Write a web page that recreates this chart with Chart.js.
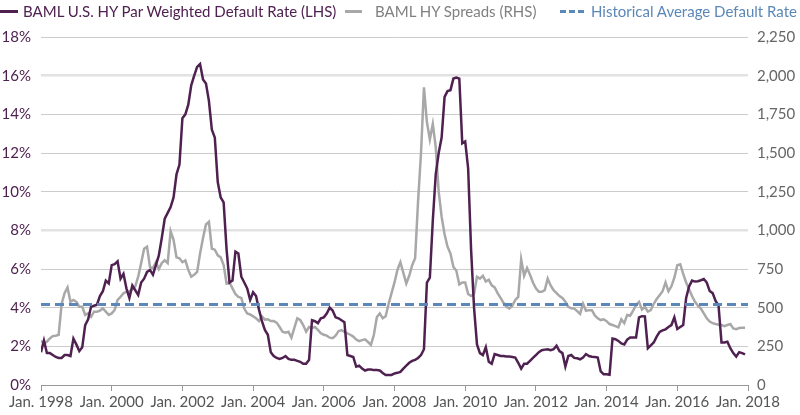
<!DOCTYPE html>
<html>
<head>
<meta charset="utf-8">
<script src="https://cdn.jsdelivr.net/npm/chart.js@4.4.0/dist/chart.umd.min.js"></script>
<style>
  html, body { margin:0; padding:0; background:#fff; }
  #wrap { position:relative; width:800px; height:415px; font-family: Lato, "Open Sans", sans-serif; }
  #chart { position:absolute; left:0; top:0; }
  .lg { position:absolute; top:2px; font-size:15px; line-height:18px; white-space:nowrap; }
  .lg i { position:absolute; top:8px; height:0; }
</style>
</head>
<body>
<div id="wrap">
  <canvas id="chart" width="800" height="415"></canvas>
  <div class="lg" style="left:0;color:#4f2150"><i style="left:0;width:18px;border-top:3px solid #4f2150"></i><span style="margin-left:23px">BAML U.S. HY Par Weighted Default Rate (LHS)</span></div>
  <div class="lg" style="left:345px;color:#808080"><i style="left:0;width:17px;border-top:3px solid #a8a8a8"></i><span style="margin-left:30px">BAML HY Spreads (RHS)</span></div>
  <div class="lg" style="left:560px;color:#5b88b8"><i style="left:0;width:24px;border-top:3px dashed #5b88b8"></i><span style="margin-left:31px">Historical Average Default Rate</span></div>
</div>
<script>
/* ---------- Data (monthly, Jan. 1998 onward) ---------- */
const tickLabels = ['Jan. 1998','Jan. 2000','Jan. 2002','Jan. 2004','Jan. 2006','Jan. 2008',
  'Jan. 2010','Jan. 2012','Jan. 2014','Jan. 2016','Jan. 2018'];

// BAML U.S. HY par weighted default rate, %
const defaultRate = [
  1.7,2.3,1.65,1.65,1.55,1.45,1.4,1.4,1.55,1.55,1.5,2.4,
  2.1,1.75,1.95,3.1,3.4,4.05,4.1,4.15,4.6,4.85,5.4,5.25,
  6.2,6.25,6.4,5.5,5.75,5.0,4.5,5.15,4.9,4.65,5.3,5.5,
  5.85,5.95,5.7,6.2,6.7,7.6,8.6,8.9,9.2,9.7,10.9,11.4,
  13.8,14.0,14.5,15.5,16.0,16.45,16.6,15.8,15.6,14.7,13.2,12.8,
  10.5,9.7,9.45,7.0,5.3,5.4,6.9,6.8,5.6,5.3,5.0,4.4,
  4.8,4.6,3.9,3.3,2.85,2.6,1.7,1.5,1.4,1.35,1.4,1.5,
  1.35,1.3,1.3,1.25,1.2,1.1,1.1,1.3,3.35,3.3,3.2,3.45,
  3.5,3.7,4.0,3.85,3.5,3.45,3.35,3.25,1.55,1.5,1.45,0.95,
  1.0,0.85,0.75,0.8,0.8,0.77,0.77,0.75,0.62,0.52,0.52,0.52,
  0.6,0.63,0.68,0.85,1.0,1.15,1.25,1.3,1.4,1.55,1.85,5.3,
  5.55,8.5,10.9,12.0,12.8,14.9,15.2,15.25,15.85,15.9,15.85,12.5,
  12.6,11.2,7.0,4.0,2.1,1.65,1.55,1.95,1.2,1.1,1.6,1.55,
  1.5,1.5,1.47,1.47,1.45,1.42,1.15,0.85,1.1,1.1,1.25,1.4,
  1.55,1.7,1.8,1.83,1.85,1.8,1.85,2.03,1.75,1.65,0.95,1.5,
  1.55,1.4,1.38,1.33,1.42,1.6,1.5,1.46,1.45,1.42,0.7,0.56,
  0.55,0.53,2.4,2.37,2.28,2.15,2.1,2.35,2.46,2.46,2.46,3.5,
  3.56,3.55,1.9,2.05,2.2,2.5,2.75,2.83,2.88,3.0,3.1,3.5,
  2.9,3.0,3.1,4.5,5.1,5.4,5.35,5.37,5.42,5.48,5.3,4.86,
  4.75,4.35,4.1,2.2,2.2,2.24,1.9,1.65,1.47,1.7,1.65,1.58
];

// BAML HY spreads, bps
const hySpreads = [
  286,269,280,301,316,319,325,525,594,631,538,550,
  538,506,506,453,463,441,474,474,481,495,474,453,
  463,485,550,570,593,603,606,619,638,700,788,881,
  894,763,756,794,750,788,806,788,994,938,825,819,
  794,806,744,700,713,731,850,950,1038,1055,881,875,
  838,825,775,656,663,625,588,569,563,494,463,456,
  444,431,413,444,423,425,413,413,403,375,344,338,
  344,306,369,431,420,388,345,375,369,375,356,334,
  325,319,306,303,319,348,355,344,334,325,313,294,
  284,290,295,278,259,325,438,463,431,444,525,594,
  663,744,794,725,656,706,775,819,1188,1500,1925,1700,
  1588,1688,1538,1250,1088,975,894,850,763,738,650,663,
  663,588,575,588,700,688,706,669,681,644,631,594,
  563,531,506,495,513,550,569,813,706,756,713,663,
  625,603,603,613,688,644,613,594,575,563,538,506,
  496,494,478,460,525,480,484,484,450,431,420,425,
  413,394,388,381,373,425,400,453,448,481,516,538,
  488,506,475,484,525,556,581,606,663,606,638,694,
  775,781,719,663,619,575,538,513,494,463,431,410,
  400,394,390,388,381,388,394,366,361,368,370,370
];

const histAvgDefault = 4.17; // %
const lastMonth = 240;       // Jan. 2018, months since Jan. 1998

/* ---------- Chart ---------- */
const PURPLE = '#4f2150';
const GREY = '#a8a8a8';
const BLUE = '#5b88b8';
const FONT = { family: 'Lato, "Open Sans", sans-serif', size: 15 };

const toXY = (arr) => arr.map((v, i) => ({ x: i, y: v }));

new Chart(document.getElementById('chart'), {
  type: 'line',
  data: {
    datasets: [
      {
        label: 'Historical Average Default Rate',
        data: [{ x: 0, y: histAvgDefault }, { x: lastMonth, y: histAvgDefault }],
        yAxisID: 'y',
        borderColor: BLUE,
        borderWidth: 3,
        borderDash: [9, 5],
        pointRadius: 0
      },
      {
        label: 'BAML U.S. HY Par Weighted Default Rate (LHS)',
        data: toXY(defaultRate),
        yAxisID: 'y',
        borderColor: PURPLE,
        borderWidth: 2.5,
        pointRadius: 0,
        tension: 0
      },
      {
        label: 'BAML HY Spreads (RHS)',
        data: toXY(hySpreads),
        yAxisID: 'y1',
        borderColor: GREY,
        borderWidth: 2.5,
        pointRadius: 0,
        tension: 0
      }
    ]
  },
  options: {
    responsive: false,
    animation: false,
    layout: { padding: { top: 37, left: 0, right: 0, bottom: 0 } },
    plugins: { legend: { display: false }, tooltip: { enabled: false } },
    scales: {
      x: {
        type: 'linear',
        min: 0,
        max: lastMonth,
        afterFit: (s) => { s.height = 30; },
        ticks: {
          stepSize: 24,
          autoSkip: false,
          maxRotation: 0,
          padding: 2,
          color: '#555',
          font: FONT,
          callback: (v) => tickLabels[v / 24]
        },
        grid: { drawOnChartArea: false, drawTicks: true, tickLength: 6, color: '#999' },
        border: { display: true, color: '#999', width: 1 }
      },
      y: {
        position: 'left',
        min: 0,
        max: 18,
        afterFit: (s) => { s.width = 41; },
        ticks: { stepSize: 2, padding: 10, color: PURPLE, font: FONT, callback: (v) => v + '%' },
        grid: {
          drawTicks: false,
          color: (c) => (c.tick && (c.tick.value === 8 || c.tick.value === 16)) ? '#e2e2e2' : '#cccccc',
          lineWidth: (c) => (c.tick && (c.tick.value === 8 || c.tick.value === 16)) ? 2.5 : 1
        },
        border: { display: false }
      },
      y1: {
        position: 'right',
        min: 0,
        max: 2250,
        afterFit: (s) => { s.width = 52; },
        ticks: { stepSize: 250, padding: 9, color: '#666', font: FONT, callback: (v) => v.toLocaleString('en-US') },
        grid: { drawOnChartArea: false, drawTicks: false },
        border: { display: false }
      }
    }
  }
});
</script>
</body>
</html>
